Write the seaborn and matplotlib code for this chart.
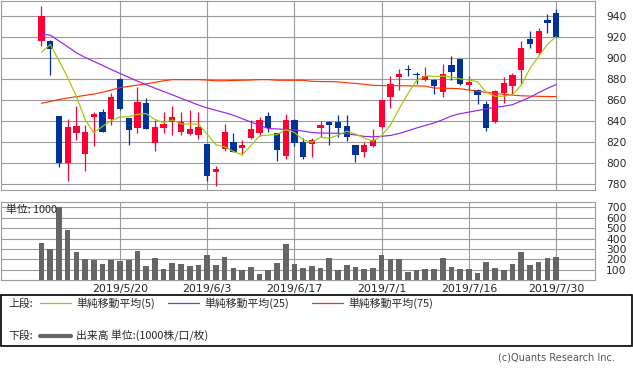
import numpy as np
import pandas as pd
import matplotlib
matplotlib.use("Agg")
import matplotlib.pyplot as plt
import seaborn as sns
from matplotlib.patches import Rectangle
from matplotlib.lines import Line2D

# ---------------- data ----------------
dates = (["2019/5/%d" % d for d in [7, 8, 9, 10, 13, 14, 15, 16, 17, 20, 21, 22, 23, 24, 27, 28, 29, 30, 31]]
         + ["2019/6/%d" % d for d in [3, 4, 5, 6, 7, 10, 11, 12, 13, 14, 17, 18, 19, 20, 21, 24, 25, 26, 27, 28]]
         + ["2019/7/%d" % d for d in [1, 2, 3, 4, 5, 8, 9, 10, 11, 12, 16, 17, 18, 19, 22, 23, 24, 25, 26, 29, 30]])

opens = [916.2, 915.9, 844.4, 799.7, 828.6, 808.2, 843.5, 848.2, 841.6, 880.0,
         842.5, 833.0, 856.8, 819.0, 833.0, 839.0, 829.2, 827.6, 826.6, 817.8,
         791.1, 813.0, 819.7, 814.0, 823.5, 828.2, 844.4, 828.2, 806.3, 840.6,
         819.7, 817.8, 833.0, 839.3, 838.6, 834.9, 816.8, 810.1, 815.9, 833.9,
         862.5, 881.6, 889.5, 884.4, 878.7, 878.7, 867.3, 893.0, 898.7, 874.0,
         869.2, 855.9, 838.7, 866.3, 873.0, 888.2, 918.7, 904.4, 935.9, 943.5]
highs = [949.5, 917.1, 845.0, 841.6, 854.0, 835.9, 848.2, 851.4, 866.3, 880.5,
         843.0, 872.1, 861.6, 840.6, 848.2, 854.0, 848.2, 850.1, 848.2, 818.0,
         796.8, 836.8, 828.2, 821.6, 840.6, 843.5, 848.2, 828.5, 846.3, 841.6,
         823.5, 823.5, 839.6, 840.3, 845.4, 845.4, 817.0, 820.2, 832.0, 860.0,
         882.5, 889.2, 893.0, 886.3, 891.1, 879.7, 894.8, 901.6, 899.0, 882.5,
         870.2, 858.7, 869.2, 881.6, 885.4, 915.9, 925.4, 929.2, 942.5, 947.3]
lows = [911.4, 883.5, 796.2, 782.5, 821.6, 792.0, 815.9, 829.0, 835.9, 850.0,
        816.8, 828.2, 832.0, 811.1, 828.2, 826.3, 826.3, 827.0, 822.5, 782.5,
        777.8, 811.1, 810.0, 807.3, 823.0, 825.4, 829.2, 801.6, 803.5, 815.9,
        803.5, 805.3, 824.7, 816.8, 824.4, 820.5, 800.6, 805.3, 815.5, 833.5,
        852.1, 869.2, 882.5, 874.9, 878.0, 865.4, 862.5, 878.7, 874.5, 869.2,
        855.9, 830.1, 838.0, 856.8, 865.4, 874.9, 909.2, 903.5, 924.4, 920.5]
closes = [940.6, 908.6, 799.7, 833.9, 834.9, 829.2, 846.3, 829.2, 862.5, 851.1,
          831.1, 857.8, 832.4, 833.9, 836.8, 843.8, 838.6, 832.0, 833.9, 787.6,
          793.9, 829.2, 810.1, 816.8, 832.0, 840.6, 833.0, 812.0, 840.6, 818.7,
          805.3, 821.6, 835.9, 836.2, 833.0, 824.4, 807.3, 816.8, 821.6, 859.6,
          874.9, 884.4, 889.0, 884.0, 882.5, 873.0, 884.4, 886.3, 874.9, 876.8,
          864.4, 833.0, 868.2, 875.9, 883.5, 909.2, 913.0, 926.3, 933.3, 920.6]
volumes = [362, 298, 702, 487, 266, 205, 189, 157, 189, 179,
           196, 282, 138, 215, 109, 167, 157, 138, 147, 244,
           147, 224, 119, 93, 128, 61, 96, 167, 349, 157,
           119, 138, 119, 215, 99, 147, 128, 109, 119, 244,
           205, 205, 80, 99, 109, 109, 215, 128, 109, 109,
           71, 176, 119, 99, 157, 272, 147, 176, 215, 224]
ma5 = [905.7, 913.0, 897.8, 881.3, 863.5, 841.3, 828.8, 834.7, 840.4, 843.7,
       844.0, 846.3, 847.0, 841.3, 838.4, 840.9, 837.1, 837.0, 837.0, 827.2,
       817.2, 815.3, 810.9, 807.5, 816.4, 825.7, 826.5, 826.9, 831.6, 829.0,
       821.9, 819.6, 824.4, 823.5, 826.4, 830.2, 827.4, 823.5, 820.6, 825.9,
       836.0, 851.5, 865.9, 878.4, 883.0, 882.6, 882.6, 882.0, 880.2, 879.1,
       877.4, 867.1, 863.5, 863.7, 865.0, 874.0, 890.0, 901.6, 913.1, 920.5]
ma25 = [922.5, 922.0, 916.4, 910.8, 905.1, 900.6, 896.8, 893.0, 889.1, 885.3,
        881.6, 878.0, 874.6, 871.3, 868.1, 864.9, 861.6, 858.4, 855.1, 852.4,
        850.1, 847.9, 845.4, 842.2, 838.9, 835.7, 832.7, 832.3, 831.9, 831.3,
        830.3, 828.9, 828.5, 828.3, 828.1, 827.8, 826.6, 825.2, 824.8, 825.3,
        826.1, 828.0, 830.5, 833.2, 835.7, 838.0, 841.1, 844.7, 846.9, 848.4,
        849.9, 851.5, 853.0, 854.0, 855.5, 859.0, 862.5, 867.0, 871.1, 874.7]
ma75 = [856.8, 858.6, 860.4, 861.9, 863.1, 864.4, 865.6, 867.4, 869.5, 871.7,
        873.0, 874.2, 875.4, 876.8, 878.3, 879.4, 879.4, 879.4, 879.4, 879.0,
        878.3, 878.4, 878.6, 878.8, 879.0, 879.4, 879.4, 878.8, 878.8, 878.8,
        878.8, 877.8, 877.6, 877.5, 877.3, 876.4, 875.8, 875.0, 874.0, 873.7,
        873.7, 873.6, 873.5, 873.4, 873.2, 871.4, 871.2, 871.0, 870.7, 869.6,
        868.3, 867.3, 866.3, 865.4, 864.6, 864.0, 863.7, 863.5, 863.3, 863.2]
tick_dates = ["2019/5/20", "2019/6/3", "2019/6/17", "2019/7/1", "2019/7/16", "2019/7/30"]
price_ticks = [780, 800, 820, 840, 860, 880, 900, 920, 940]
volume_ticks = [100, 200, 300, 400, 500, 600, 700]

# ---------------- style ----------------
sns.set_style("white")
plt.rcParams["font.family"] = ["Noto Sans CJK JP", "DejaVu Sans"]

RED, BLUE = "#ff0033", "#003399"
C5, C25, C75 = "#99cc00", "#9922ee", "#ff3300"
GRID = "#9a9a9a"

df = pd.DataFrame({"date": dates, "open": opens, "high": highs, "low": lows,
                   "close": closes, "volume": volumes,
                   "ma5": ma5, "ma25": ma25, "ma75": ma75})
df["i"] = np.arange(len(df))
up = df["close"] >= df["open"]
colors = np.where(up, RED, BLUE)
tick_pos = [dates.index(d) for d in tick_dates]

W, H = 633, 373
fig = plt.figure(figsize=(W / 100, H / 100), dpi=100)
fig.patch.set_facecolor("white")


def px_axes(x0, y0, x1, y1):
    return fig.add_axes([x0 / W, 1 - y1 / H, (x1 - x0) / W, (y1 - y0) / H])


def fx(x):
    return x / W


def fy(y):
    return 1 - y / H


XLIM = (-4.70, 63.46)

# ---------------- price panel ----------------
ax = px_axes(0.5, 0.5, 595, 190)
ax.set_xlim(*XLIM)
ax.set_ylim(774, 955)
ax.set_yticks(price_ticks)
ax.set_xticks(tick_pos)
ax.set_xticklabels([])
ax.yaxis.tick_right()
ax.tick_params(axis="both", length=0)
ax.tick_params(axis="y", pad=8, labelsize=7.7)
for lab in ax.get_yticklabels():
    lab.set_fontfamily("DejaVu Sans")
ax.grid(True, color=GRID, lw=0.8)
ax.set_axisbelow(True)
for s in ax.spines.values():
    s.set_color(GRID)
    s.set_linewidth(0.8)

body_bottom = np.minimum(df["open"], df["close"])
body_h = np.maximum(np.abs(df["close"] - df["open"]), 0.9)
ax.vlines(df["i"], df["low"], df["high"], colors=colors, lw=0.9, zorder=2)
ax.bar(df["i"], body_h, bottom=body_bottom, width=0.72, color=colors,
       linewidth=0, zorder=3)

sns.lineplot(data=df, x="i", y="ma75", ax=ax, color=C75, lw=0.85, zorder=4)
sns.lineplot(data=df, x="i", y="ma25", ax=ax, color=C25, lw=0.85, zorder=4)
sns.lineplot(data=df, x="i", y="ma5", ax=ax, color=C5, lw=0.85, zorder=5)
ax.set_xlabel("")
ax.set_ylabel("")
ax.set_xlim(*XLIM)

# ---------------- volume panel ----------------
axv = px_axes(0.5, 201.7, 595, 280)
sns.barplot(data=df, x="i", y="volume", ax=axv, native_scale=True,
            color="#666666", width=0.65, saturation=1, linewidth=0, zorder=3)
axv.set_xlim(*XLIM)
axv.set_ylim(0, 756)
axv.set_yticks(volume_ticks)
axv.set_xticks(tick_pos)
axv.set_xticklabels(tick_dates, fontsize=7.9, fontfamily="DejaVu Sans")
axv.yaxis.tick_right()
axv.tick_params(axis="both", length=0)
axv.tick_params(axis="y", pad=8, labelsize=7.7)
axv.tick_params(axis="x", pad=3)
for lab in axv.get_yticklabels():
    lab.set_fontfamily("DejaVu Sans")
axv.grid(True, color=GRID, lw=0.8)
axv.set_axisbelow(True)
axv.set_xlabel("")
axv.set_ylabel("")
for s in axv.spines.values():
    s.set_color(GRID)
    s.set_linewidth(0.8)
axv.text(6 / 595, 1 - (209.3 - 201.7) / (280 - 201.7), "単位: 1000",
         transform=axv.transAxes, ha="left", va="center", fontsize=7.8, zorder=6)

# ---------------- legend box ----------------
fig.add_artist(Rectangle((fx(0.8), fy(346)), fx(631.5) - fx(0.8), fy(295) - fy(346),
                         transform=fig.transFigure, fill=False, edgecolor="black", lw=1.2))
ly1, ly2 = 303.3, 336
fs = 7.8
fig.text(fx(8), fy(ly1), "上段:", ha="left", va="center", fontsize=fs)
fig.text(fx(8), fy(ly2), "下段:", ha="left", va="center", fontsize=fs)
for x0, x1, col, lab in [(40, 71, C5, "単純移動平均(5)"),
                         (168, 199, C25, "単純移動平均(25)"),
                         (312, 343, C75, "単純移動平均(75)")]:
    fig.add_artist(Line2D([fx(x0), fx(x1)], [fy(ly1), fy(ly1)], transform=fig.transFigure,
                          color=col, lw=0.9))
    fig.text(fx(x1 + 5), fy(ly1), lab, ha="left", va="center", fontsize=fs)
fig.add_artist(Line2D([fx(40), fx(71)], [fy(ly2), fy(ly2)], transform=fig.transFigure,
                      color="#666666", lw=3.0))
fig.text(fx(76), fy(ly2), "出来高 単位:(1000株/口/枚)", ha="left", va="center", fontsize=fs)

fig.text(fx(615), fy(358), "(c)Quants Research Inc.", ha="right", va="center",
         fontsize=7, color="#555555", fontfamily="DejaVu Sans")

fig.savefig("out.png", dpi=100, facecolor="white")
